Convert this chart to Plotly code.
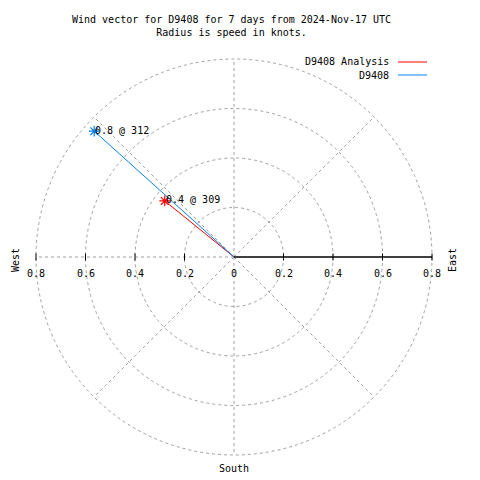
import math
import plotly.graph_objects as go

# ---- data ----
series_names = ["D9408 Analysis", "D9408"]
series_speed = [0.36, 0.76]          # knots (radius)
series_dir = [309, 312]              # compass degrees
series_labels = ["0.4 @ 309", "0.8 @ 312"]
series_colors = ["#ff0000", "#0a80f0"]
ring_radii = [0.2, 0.4, 0.6, 0.8]
tick_vals = [0.2, 0.4, 0.6, 0.8]
spoke_angles = [45, 135, 225, 315, 0, 180, 270]   # compass degrees of dashed spokes
title_text = "Wind vector for D9408 for 7 days from 2024-Nov-17 UTC<br>Radius is speed in knots."

FONT = "DejaVu Sans Mono"
GRID = "#a0a0a0"
RMAX = 0.8
scale = 247.5  # px per unit

fig = go.Figure()

shapes = []
for r in ring_radii:
    shapes.append(dict(type="circle", xref="x", yref="y", x0=-r, y0=-r, x1=r, y1=r,
                       line=dict(color=GRID, width=1, dash="3px,3px"), layer="below"))
for a in spoke_angles:
    th = math.radians(a)
    shapes.append(dict(type="line", xref="x", yref="y", x0=0, y0=0,
                       x1=RMAX * math.sin(th), y1=RMAX * math.cos(th),
                       line=dict(color=GRID, width=1, dash="3px,3px"), layer="below"))
shapes.append(dict(type="line", xref="x", yref="y", x0=0, y0=0, x1=RMAX, y1=0,
                   line=dict(color="black", width=1.5)))
tl = 3.5 / scale
for v in tick_vals:
    for s in (1, -1):
        shapes.append(dict(type="line", xref="x", yref="y", x0=s * v, y0=-tl, x1=s * v, y1=tl,
                           line=dict(color="black", width=1)))

annotations = []
for v in [0] + tick_vals:
    for s in ((1, -1) if v else (1,)):
        annotations.append(dict(x=s * v, y=-16 / scale, xref="x", yref="y", text=("%g" % v),
                                showarrow=False, font=dict(family=FONT, size=10, color="black"),
                                xanchor="center", yanchor="middle"))

for name, sp, d, lab, col in zip(series_names, series_speed, series_dir, series_labels, series_colors):
    th = math.radians(d)
    x = sp * math.sin(th)
    y = sp * math.cos(th)
    fig.add_trace(go.Scatter(x=[0, x], y=[0, y], mode="lines", line=dict(color=col, width=1),
                             name=name, showlegend=False, hoverinfo="skip"))
    fig.add_trace(go.Scatter(x=[x], y=[y], mode="markers",
                             marker=dict(symbol="asterisk-open", size=9, color=col,
                                         line=dict(color=col, width=1.2)),
                             showlegend=False, hoverinfo="skip"))
    annotations.append(dict(x=x, y=y, xref="x", yref="y", text=lab, showarrow=False,
                            font=dict(family=FONT, size=10, color="black"),
                            xanchor="left", yanchor="middle", xshift=-1, yshift=1))

leg_y = [62, 75]
for name, col, py in zip(series_names, series_colors, leg_y):
    annotations.append(dict(x=391 / 480, y=1 - py / 480, xref="paper", yref="paper", text=name,
                            showarrow=False, font=dict(family=FONT, size=10, color="black"),
                            xanchor="right", yanchor="middle"))
    shapes.append(dict(type="line", xref="paper", yref="paper", x0=398 / 480, x1=427 / 480,
                       y0=1 - py / 480, y1=1 - py / 480, line=dict(color=col, width=1)))

annotations.append(dict(x=15 / 480, y=1 - 260 / 480, xref="paper", yref="paper", text="West",
                        textangle=-90, showarrow=False, xanchor="center", yanchor="middle",
                        font=dict(family=FONT, size=10, color="black")))
annotations.append(dict(x=452 / 480, y=1 - 260 / 480, xref="paper", yref="paper", text="East",
                        textangle=-90, showarrow=False, xanchor="center", yanchor="middle",
                        font=dict(family=FONT, size=10, color="black")))
annotations.append(dict(x=234 / 480, y=1 - 468 / 480, xref="paper", yref="paper", text="South",
                        showarrow=False, xanchor="center", yanchor="middle",
                        font=dict(family=FONT, size=10, color="black")))
annotations.append(dict(x=231 / 480, y=1 - 26 / 480, xref="paper", yref="paper", text=title_text,
                        showarrow=False, align="center", xanchor="center", yanchor="middle",
                        font=dict(family=FONT, size=10, color="black")))

fig.update_layout(
    width=480, height=480, margin=dict(l=0, r=0, t=0, b=0),
    paper_bgcolor="white", plot_bgcolor="white",
    xaxis=dict(range=[-234 / scale, 246 / scale], visible=False, fixedrange=True),
    yaxis=dict(range=[-223 / scale, 257 / scale], visible=False, fixedrange=True),
    shapes=shapes, annotations=annotations, showlegend=False,
)

fig.write_html("out.html", config={"displayModeBar": False},
               post_script="document.body.style.margin='0px';document.body.style.overflow='hidden';")
